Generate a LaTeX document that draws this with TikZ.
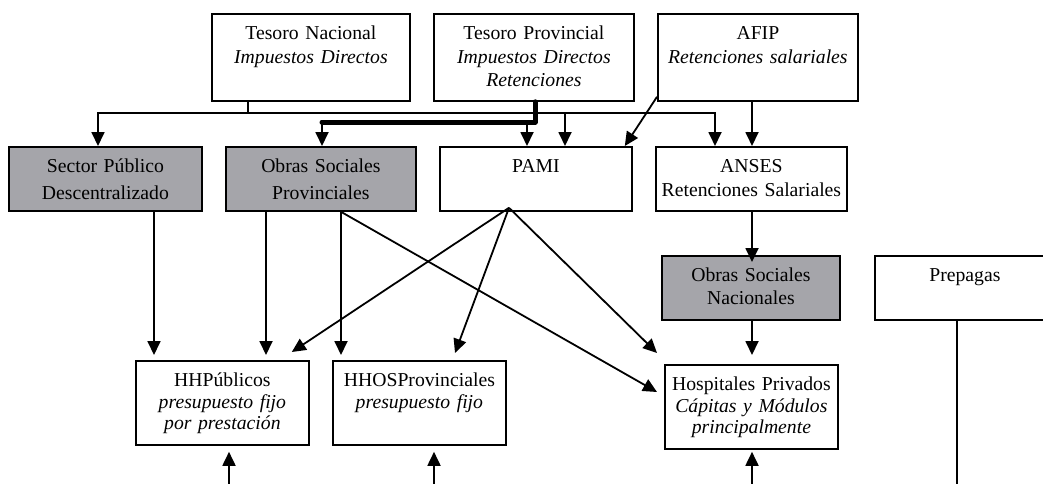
\documentclass[tikz,border=0pt]{standalone}
\usepackage{fontspec}
\setmainfont{Liberation Serif}
\usetikzlibrary{arrows.meta}
\definecolor{grisobra}{RGB}{165,165,170}
\tikzset{
  interlinea/.style={font=\fontsize{19.7}{#1}\selectfont},
  caja/.style 2 args={draw, line width=1.8pt, inner sep=0pt, anchor=north west,
    align=center, text width=#1pt, text height=26pt, text depth=#2pt, interlinea=23.5},
  gris/.style={fill=grisobra},
  linea/.style={line width=1.8pt},
  flecha/.style={linea, -{Triangle[length=14pt,width=13pt]}},
  gruesa/.style={line width=5pt, line cap=round, line join=round}
}
\begin{document}
\begin{tikzpicture}[x=1pt,y=-1pt]
    \useasboundingbox (0,0) rectangle (1043,483);
    % boîtes du haut
    \node[caja={198}{61}] (tn) at (211,13) {Tesoro Nacional\\\textit{Impuestos Directos}};
    \node[caja={200}{61}] (tp) at (433,13) {Tesoro Provincial\\\textit{Impuestos Directos}\\\textit{Retenciones}};
    \node[caja={200}{61}] (afip) at (657,13) {AFIP\\\textit{Retenciones salariales}};
    % boîtes du milieu
    \node[caja={193}{38},gris,interlinea=27] (sp) at (8,146) {Sector Público\\Descentralizado};
    \node[caja={190}{38},gris,interlinea=27] (osp) at (225,146) {Obras Sociales\\Provinciales};
    \node[caja={192}{38}] (pami) at (439,146) {PAMI};
    \node[caja={191}{38}] (anses) at (655,146) {ANSES\\Retenciones Salariales};
    \node[caja={178}{38},gris,interlinea=23] (osn) at (661,255) {Obras Sociales\\Nacionales};
    \node[caja={180}{38}] (prep) at (874,255) {Prepagas};
    % hôpitaux
    \node[caja={173}{58},interlinea=21.5] (hhp) at (135,360) {HHPúblicos\\\textit{presupuesto fijo}\\\textit{por prestación}};
    \node[caja={173}{58},interlinea=21.5] (hhos) at (332,360) {HHOSProvinciales\\\textit{presupuesto fijo}};
    \node[caja={173}{58},interlinea=21.5] (hpriv) at (664,364) {Hospitales Privados\\\textit{Cápitas y Módulos}\\\textit{principalmente}};
    % points de raccord
    \coordinate (bus) at (0,113);
    \coordinate (barra) at (0,122);
    \coordinate (fondo) at (0,490);
    \coordinate (tnout) at ([xshift=37pt]tn.south west);
    \coordinate (tpout) at ([xshift=102pt]tp.south west);
    \coordinate (afipout) at ([xshift=95pt]afip.south west);
    \coordinate (spin) at ([xshift=90pt]sp.north west);
    \coordinate (ospin) at ([xshift=97pt]osp.north west);
    \coordinate (pamiin) at ([xshift=126pt]pami.north west);
    \coordinate (pamiinb) at ([xshift=88pt]pami.north west);
    \coordinate (ansesin) at ([xshift=60pt]anses.north west);
    \coordinate (spout) at ([xshift=146pt]sp.south west);
    \coordinate (ospa) at ([xshift=41pt]osp.south west);
    \coordinate (ospb) at ([xshift=116pt]osp.south west);
    \coordinate (pamiout) at ([xshift=70pt,yshift=4pt]pami.south west);
    \coordinate (hhpin) at ([xshift=94pt]hhp.south west);
    \coordinate (hhosin) at ([xshift=102pt]hhos.south west);
    \coordinate (hprivin) at ([xshift=88pt]hpriv.south west);
    \coordinate (prepout) at ([xshift=83pt]prep.south west);
    % Tesoro Nacional
    \draw[linea] (tnout) -- (tnout |- bus);
    \draw[flecha] (tnout |- bus) -| (spin);
    \draw[flecha] (tnout |- bus) -| (ansesin);
    \draw[flecha] (pamiin |- bus) -- (pamiin);
    % Tesoro Provincial
    \draw[gruesa] (tpout) |- (ospin |- barra);
    \draw[flecha] (ospin |- barra) -- (ospin);
    \draw[flecha] (pamiinb |- barra) -- (pamiinb);
    % AFIP, ANSES
    \draw[flecha] ([yshift=5pt]afip.south west) -- ([xshift=-8pt]pami.north east);
    \draw[flecha] (afipout) -- (afipout |- anses.north);
    \draw[flecha,shorten >=-7pt] (afipout |- anses.south) -- (afipout |- osn.north);
    \draw[flecha,shorten >=9pt] (afipout |- osn.south) -- (afipout |- hpriv.north);
    % vers les hôpitaux
    \draw[flecha,shorten >=5pt] (spout) -- (spout |- hhp.north);
    \draw[flecha,shorten >=5pt] (ospa) -- (ospa |- hhp.north);
    \draw[flecha,shorten >=5pt] (ospb) -- (ospb |- hhos.north);
    \draw[flecha] (ospb) -- ([xshift=-7pt,yshift=-28pt]hpriv.north west);
    \draw[flecha] (pamiout) -- ([xshift=-18pt,yshift=8pt]hhp.north east);
    \draw[flecha] (pamiout) -- ([xshift=123pt,yshift=7pt]hhos.north west);
    \draw[flecha] (pamiout) -- ([xshift=-7pt,yshift=11pt]hpriv.north west);
    % depuis le bas
    \draw[flecha,shorten >=6pt] (hhpin |- fondo) -- (hhpin);
    \draw[flecha,shorten >=6pt] (hhosin |- fondo) -- (hhosin);
    \draw[flecha,shorten >=2pt] (hprivin |- fondo) -- (hprivin);
    \draw[linea] (prepout) -- (prepout |- fondo);
\end{tikzpicture}
\end{document}
